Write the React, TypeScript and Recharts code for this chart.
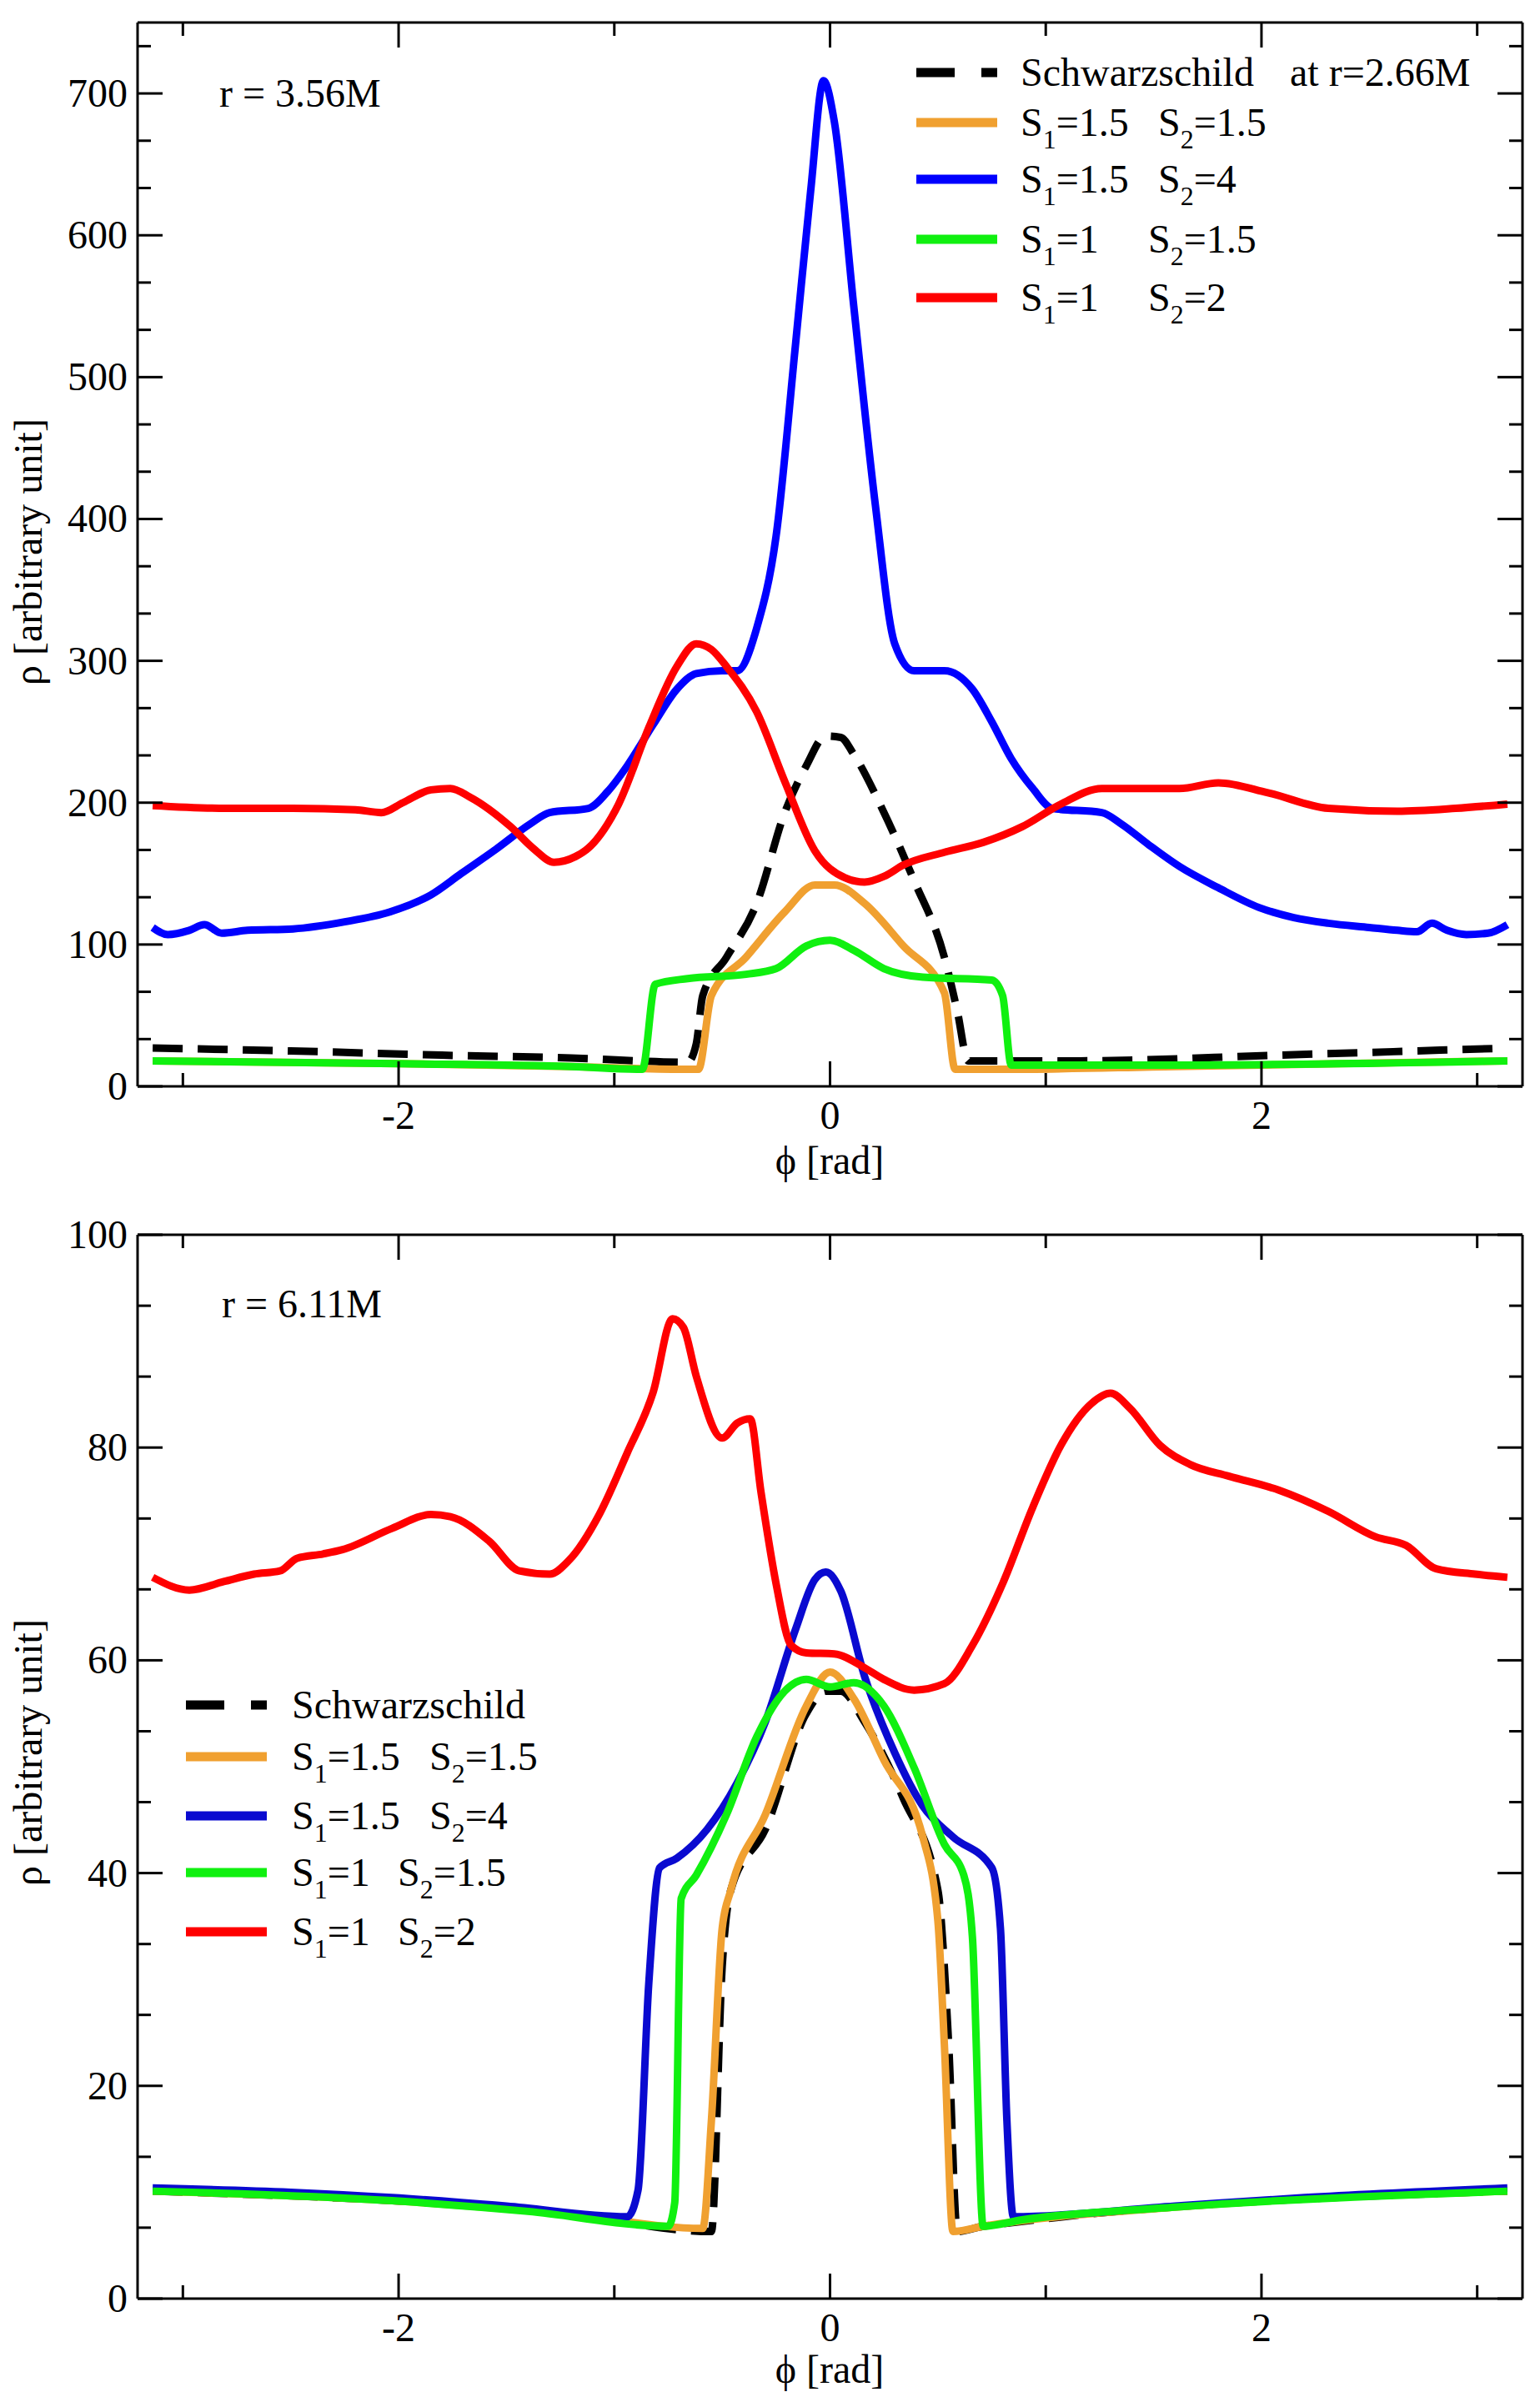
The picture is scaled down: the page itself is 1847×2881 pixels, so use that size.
import React from 'react'
import { Line, LineChart, XAxis, YAxis } from 'recharts'

type Pt = { phi: number; rho: number }
const pts = (a: number[][]): Pt[] => a.map(([phi, rho]) => ({ phi, rho }))

// x ticks (phi in rad), labels only on the even ones
const X_TICKS = [-3, -2, -1, 0, 1, 2, 3]
const X_LABELS = [-2, 0, 2]

// top panel, r = 3.56M
const TOP_Y_TICKS = [0, 33.33, 66.67, 100, 133.33, 166.67, 200, 233.33, 266.67, 300, 333.33, 366.67, 400, 433.33, 466.67, 500, 533.33, 566.67, 600, 633.33, 666.67, 700, 733.33]
const TOP_Y_LABELS = [0, 100, 200, 300, 400, 500, 600, 700]

const topSchw = pts([[-3.14,27],[-2.5,25],[-1.8,22],[-1.2,20],[-0.66,17],[-0.62,30],[-0.59,64],[-0.48,91],[-0.34,129],[-0.21,193],[-0.11,226],[-0.02,247],[0.05,246],[0.11,234],[0.25,193],[0.39,145],[0.53,91],[0.59,53],[0.64,18],[1.16,18],[2.08,22],[3.14,27]])
const topOrange = pts([[-3.14,18],[-2.0,16],[-1.2,14],[-0.66,12],[-0.61,12],[-0.55,64],[-0.39,91],[-0.21,123],[-0.07,142],[0.02,142],[0.16,129],[0.34,99],[0.53,66],[0.58,12],[0.8,12],[1.6,14],[3.14,18]])
const topBlue = pts([[-3.14,112],[-3.07,107],[-2.97,110],[-2.9,114],[-2.82,108],[-2.7,110],[-2.49,111],[-2.25,116],[-2.04,123],[-1.85,135],[-1.71,150],[-1.55,167],[-1.39,185],[-1.3,193],[-1.12,196],[-1.03,208],[-0.94,226],[-0.82,255],[-0.71,280],[-0.62,291],[-0.5,293],[-0.43,293],[-0.34,323],[-0.25,388],[-0.16,523],[-0.09,631],[-0.03,709],[0.02,680],[0.11,550],[0.21,410],[0.3,312],[0.39,293],[0.53,293],[0.66,280],[0.75,257],[0.84,231],[0.94,210],[1.03,196],[1.26,193],[1.35,185],[1.48,170],[1.62,155],[1.8,140],[1.99,126],[2.15,119],[2.31,115],[2.5,112],[2.63,110],[2.72,109],[2.79,115],[2.86,110],[2.95,107],[3.05,108],[3.14,114]])
const topGreen = pts([[-3.14,18],[-2.0,16],[-1.2,14],[-0.87,12],[-0.81,72],[-0.66,76],[-0.39,79],[-0.25,83],[-0.11,99],[0,103],[0.11,96],[0.25,83],[0.43,77],[0.75,75],[0.8,64],[0.84,15],[1.6,15],[3.14,18]])
const topRed = pts([[-3.14,198],[-2.8,196],[-2.49,196],[-2.2,195],[-2.08,193],[-1.98,200],[-1.85,209],[-1.76,210],[-1.67,204],[-1.48,183],[-1.37,167],[-1.28,158],[-1.18,162],[-1.12,168],[-0.98,199],[-0.84,253],[-0.71,296],[-0.62,312],[-0.55,308],[-0.48,296],[-0.34,264],[-0.21,215],[-0.07,166],[0.07,147],[0.16,144],[0.25,148],[0.34,156],[0.53,165],[0.71,172],[0.89,183],[1.07,199],[1.26,210],[1.62,210],[1.8,214],[2.03,207],[2.31,196],[2.63,194],[2.9,196],[3.14,199]])

// bottom panel, r = 6.11M
const BOT_Y_TICKS = [0, 6.67, 13.33, 20, 26.67, 33.33, 40, 46.67, 53.33, 60, 66.67, 73.33, 80, 86.67, 93.33, 100]
const BOT_Y_LABELS = [0, 20, 40, 60, 80, 100]

const botSchw = pts([[-3.14,10.1],[-1.2,7.9],[-0.55,6.3],[-0.5,31.2],[-0.46,38.4],[-0.3,44.1],[-0.11,55],[-0.02,57.1],[0.05,57.1],[0.16,54.2],[0.34,47],[0.5,38.4],[0.55,23.9],[0.59,6.3],[0.71,6.8],[3.14,10.1]])
const botOrange = pts([[-3.14,10.1],[-2.03,9.2],[-1.2,7.9],[-0.59,6.6],[-0.55,16.7],[-0.5,34.8],[-0.46,38.4],[-0.3,45.5],[-0.11,55.7],[0,58.9],[0.11,56.4],[0.25,50.6],[0.43,43.4],[0.5,35.5],[0.53,23.9],[0.57,6.3],[0.71,6.8],[1.6,8.6],[3.14,10.1]])
const botBlue = pts([[-3.14,10.4],[-2.5,10],[-2.03,9.5],[-1.5,8.7],[-0.94,7.7],[-0.89,10.2],[-0.84,29.7],[-0.79,40.5],[-0.71,41.4],[-0.57,44.1],[-0.43,48.5],[-0.3,54.2],[-0.16,62.9],[-0.07,67.6],[-0.02,68.3],[0.05,66.5],[0.16,58.5],[0.3,51.3],[0.43,46.3],[0.57,43.4],[0.75,40.5],[0.79,34.8],[0.82,16.7],[0.85,7.7],[1.6,8.7],[2.2,9.5],[3.14,10.4]])
const botGreen = pts([[-3.14,10.1],[-2.03,9.2],[-1.4,8.2],[-0.75,6.8],[-0.72,9],[-0.69,37.6],[-0.62,39.8],[-0.48,45.5],[-0.34,52.8],[-0.21,57.1],[-0.11,58.2],[0,57.5],[0.11,57.9],[0.25,55.7],[0.39,49.9],[0.53,42.7],[0.62,39.8],[0.66,34],[0.71,6.8],[0.89,7.4],[1.6,8.6],[3.14,10.1]])
const botRed = pts([[-3.14,67.8],[-2.97,66.6],[-2.81,67.4],[-2.67,68.1],[-2.55,68.4],[-2.47,69.6],[-2.35,70],[-2.26,70.4],[-2.03,72.4],[-1.85,73.7],[-1.76,73.5],[-1.58,71.2],[-1.44,68.4],[-1.3,68.1],[-1.21,69.4],[-1.07,73.7],[-0.94,79.5],[-0.82,85.2],[-0.73,92.1],[-0.68,91.3],[-0.62,86.7],[-0.5,80.9],[-0.43,82.3],[-0.37,82.7],[-0.32,75.8],[-0.25,67.2],[-0.18,61.4],[-0.11,60.7],[0.02,60.6],[0.16,59.3],[0.25,58.2],[0.39,57.2],[0.53,57.8],[0.66,61.4],[0.8,67.2],[0.94,74.4],[1.07,80.2],[1.21,84.1],[1.3,85.1],[1.39,83.7],[1.53,80.2],[1.67,78.4],[1.85,77.3],[2.08,76],[2.31,74],[2.53,71.6],[2.67,70.8],[2.81,68.6],[2.99,68.1],[3.14,67.8]])

const FONT = '"Liberation Serif", "DejaVu Serif", serif'
const ORANGE = '#f0a030'
const GREEN = '#10f010'
const RED = '#ff0000'

const has = (list: number[], v: number) => list.some((l) => Math.abs(l - v) < 1e-6)

// inward ticks; label only on the major ones
function tick(side: 'left' | 'right' | 'top' | 'bottom', labels: number[]) {
  return (p: any) => {
    const { x, y } = p
    const v = p.payload.value
    const major = has(labels, v)
    const len = major ? 30 : 16
    let line
    if (side === 'left') line = <line x1={x} y1={y} x2={x + len} y2={y} />
    else if (side === 'right') line = <line x1={x} y1={y} x2={x - len} y2={y} />
    else if (side === 'bottom') line = <line x1={x} y1={y} x2={x} y2={y - len} />
    else line = <line x1={x} y1={y} x2={x} y2={y + len} />
    return (
      <g>
        <g stroke="#000" strokeWidth={3}>{line}</g>
        {major && side === 'left' && (
          <text x={x - 12} y={y + 16} textAnchor="end" fontFamily={FONT} fontSize={48} fill="#000">{v}</text>
        )}
        {major && side === 'bottom' && (
          <text x={x} y={y + 51} textAnchor="middle" fontFamily={FONT} fontSize={48} fill="#000">{v}</text>
        )}
      </g>
    )
  }
}

type Series = { data: Pt[]; color: string; dash?: string }

function Panel({ height, margin, yMax, yTicks, yLabels, series }: {
  height: number
  margin: { top: number; right: number; bottom: number; left: number }
  yMax: number
  yTicks: number[]
  yLabels: number[]
  series: Series[]
}) {
  const axisLine = { stroke: '#000', strokeWidth: 3 }
  return (
    <LineChart width={1847} height={height} margin={margin}>
      <XAxis dataKey="phi" type="number" domain={[-3.21, 3.21]} ticks={X_TICKS} interval={0}
        height={1} tickSize={0} tickMargin={0} tickLine={false} axisLine={axisLine}
        tick={tick('bottom', X_LABELS)} allowDataOverflow />
      <XAxis xAxisId="top" orientation="top" dataKey="phi" type="number" domain={[-3.21, 3.21]} ticks={X_TICKS} interval={0}
        height={1} tickSize={0} tickMargin={0} tickLine={false} axisLine={axisLine}
        tick={tick('top', X_LABELS)} allowDataOverflow />
      <YAxis type="number" domain={[0, yMax]} ticks={yTicks} interval={0}
        width={1} tickSize={0} tickMargin={0} tickLine={false} axisLine={axisLine}
        tick={tick('left', yLabels)} allowDataOverflow />
      <YAxis yAxisId="right" orientation="right" type="number" domain={[0, yMax]} ticks={yTicks} interval={0}
        width={1} tickSize={0} tickMargin={0} tickLine={false} axisLine={axisLine}
        tick={tick('right', yLabels)} allowDataOverflow />
      {series.map((s, i) => (
        <Line key={i} data={s.data} dataKey="rho" type="monotone" stroke={s.color} strokeWidth={9}
          strokeDasharray={s.dash} dot={false} activeDot={false} isAnimationActive={false} />
      ))}
    </LineChart>
  )
}

type LegendRow = { color: string; dash?: string; s1?: string; s2?: string; text?: string; textAt?: string }

function Legend({ x0, xText, xS2a, xS2b, rows, ys, tail }: {
  x0: number; xText: number; xS2a: number; xS2b: number; rows: LegendRow[]; ys: number[]; tail?: number
}) {
  return (
    <g fontFamily={FONT} fontSize={48} fill="#000">
      {rows.map((r, i) => {
        const y = ys[i]
        return (
          <g key={i}>
            <line x1={x0} y1={y} x2={x0 + 97} y2={y} stroke={r.color} strokeWidth={11} strokeDasharray={r.dash} />
            {r.text ? (
              <text x={xText} y={y + 16}>
                {r.text}
                {r.textAt && <tspan x={tail}>{r.textAt}</tspan>}
              </text>
            ) : (
              <text x={xText} y={y + 16}>
                <tspan>S</tspan>
                <tspan fontSize={32} dy={15}>1</tspan>
                <tspan dy={-15}>={r.s1}</tspan>
                <tspan x={r.s1 === '1' ? xS2b : xS2a}>S</tspan>
                <tspan fontSize={32} dy={15}>2</tspan>
                <tspan dy={-15}>={r.s2}</tspan>
              </text>
            )}
          </g>
        )
      })}
    </g>
  )
}

export default function App() {
  const topRows: LegendRow[] = [
    { color: '#000', dash: '46 32', text: 'Schwarzschild', textAt: 'at r=2.66M' },
    { color: ORANGE, s1: '1.5', s2: '1.5' },
    { color: '#0000ff', s1: '1.5', s2: '4' },
    { color: GREEN, s1: '1', s2: '1.5' },
    { color: RED, s1: '1', s2: '2' },
  ]
  const botRows: LegendRow[] = [
    { color: '#000', dash: '46 32', text: 'Schwarzschild' },
    { color: ORANGE, s1: '1.5', s2: '1.5' },
    { color: '#0a0ad0', s1: '1.5', s2: '4' },
    { color: GREEN, s1: '1', s2: '1.5' },
    { color: RED, s1: '1', s2: '2' },
  ]
  return (
    <div style={{ position: 'absolute', left: 0, top: 0, width: 1847, height: 2881, background: '#fff' }}>
      <div style={{ position: 'absolute', left: 0, top: 0 }}>
        <Panel height={1440} margin={{ top: 26, right: 20, bottom: 136, left: 164 }} yMax={750}
          yTicks={TOP_Y_TICKS} yLabels={TOP_Y_LABELS}
          series={[
            { data: topSchw, color: '#000', dash: '36 18' },
            { data: topOrange, color: ORANGE },
            { data: topBlue, color: '#0000ff' },
            { data: topGreen, color: GREEN },
            { data: topRed, color: RED },
          ]} />
      </div>
      <div style={{ position: 'absolute', left: 0, top: 1440 }}>
        <Panel height={1441} margin={{ top: 40, right: 20, bottom: 123, left: 164 }} yMax={100}
          yTicks={BOT_Y_TICKS} yLabels={BOT_Y_LABELS}
          series={[
            { data: botSchw, color: '#000', dash: '36 18' },
            { data: botOrange, color: ORANGE },
            { data: botBlue, color: '#0a0ad0' },
            { data: botGreen, color: GREEN },
            { data: botRed, color: RED },
          ]} />
      </div>
      <svg width={1847} height={2881} style={{ position: 'absolute', left: 0, top: 0, pointerEvents: 'none' }}>
        <g fontFamily={FONT} fontSize={48} fill="#000">
          <text x={263} y={128}>r = 3.56M</text>
          <text x={266} y={1580}>r = 6.11M</text>
          <text x={995} y={1408} textAnchor="middle">ϕ [rad]</text>
          <text x={995} y={2858} textAnchor="middle">ϕ [rad]</text>
          <text transform="translate(50,662) rotate(-90)" textAnchor="middle">ρ [arbitrary unit]</text>
          <text transform="translate(50,2102) rotate(-90)" textAnchor="middle">ρ [arbitrary unit]</text>
        </g>
        <Legend x0={1099} xText={1224} xS2a={1389} xS2b={1377} rows={topRows} ys={[87, 147, 215, 287, 357]} tail={1547} />
        <Legend x0={223} xText={350} xS2a={515} xS2b={477} rows={botRows} ys={[2045, 2107, 2178, 2246, 2317]} />
      </svg>
    </div>
  )
}
